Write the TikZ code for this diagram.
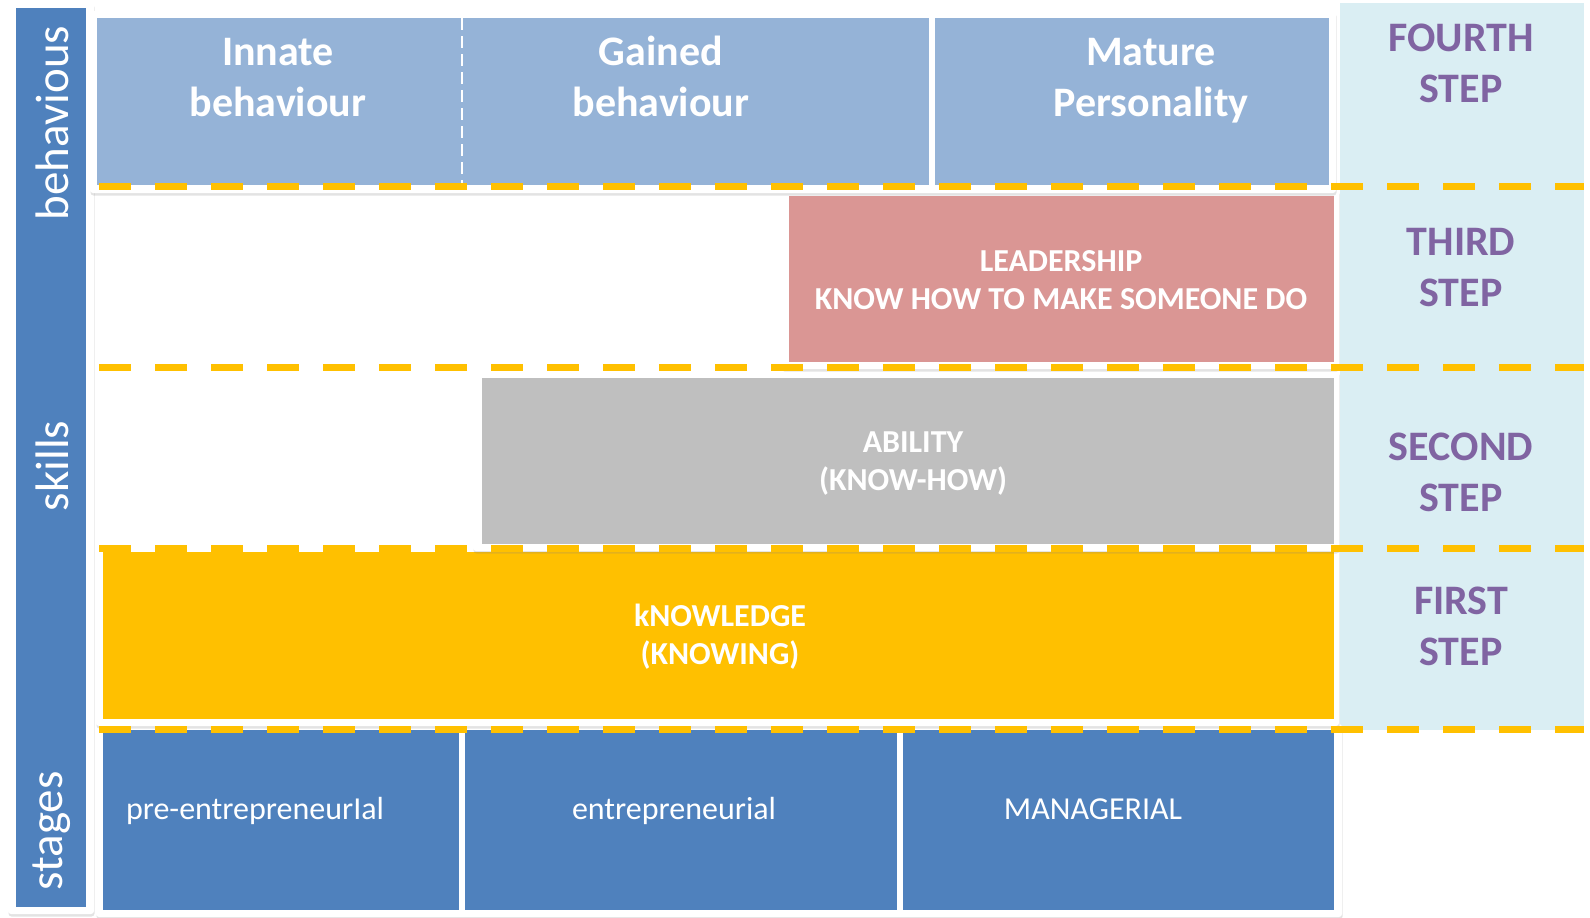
\documentclass[tikz,border=0pt]{standalone}
\usepackage{fontspec}
\setmainfont{Carlito}
\usetikzlibrary{shadows}
\definecolor{lblue}{HTML}{95B3D7}
\definecolor{dblue}{HTML}{4F81BD}
\definecolor{pinkc}{HTML}{DA9694}
\definecolor{grayc}{HTML}{BFBFBF}
\definecolor{yellowc}{HTML}{FFC000}
\definecolor{cyanc}{HTML}{DAEEF3}
\definecolor{purplec}{HTML}{8064A2}
\begin{document}
\begin{tikzpicture}[x=1pt,y=-1pt,
  frame/.style={fill=white, rounded corners=3pt, drop shadow={shadow xshift=0.5pt, shadow yshift=-2.5pt, opacity=0.22}},
  yline/.style={draw=yellowc, line width=7pt, dash pattern=on 32pt off 24pt},
  title/.style={text=white, font=\bfseries\fontsize{42}{51}\selectfont, align=center, inner sep=0pt},
  steplbl/.style={text=purplec, font=\bfseries\fontsize{42}{51}\selectfont, align=center, inner sep=0pt},
  midlbl/.style={text=white, font=\bfseries\fontsize{32}{38}\selectfont, align=center, inner sep=0pt},
  stagelbl/.style={text=white, font=\fontsize{32}{38}\selectfont, inner sep=0pt, anchor=base},
  sidelbl/.style={text=white, font=\fontsize{47}{56}\selectfont, rotate=90, inner sep=0pt}]
\useasboundingbox (0,0) rectangle (1590,918);
\fill[white] (0,0) rectangle (1590,918);
% step column
\fill[cyanc] (1340,3) rectangle (1584,730);
% left bar
\fill[frame] (8,2) rectangle (94,914);
\fill[dblue] (16,8) rectangle (86,907);
% row 5: stages
\fill[frame] (96,724) rectangle (1342,917);
\fill[dblue] (103,730) rectangle (459,910);
\fill[dblue] (465,730) rectangle (897,910);
\fill[dblue] (903,730) rectangle (1334,910);
% row 4: knowledge
\fill[frame] (96,545) rectangle (1339,726);
\fill[yellowc] (103,552) rectangle (1334,719);
% row 3: ability
\fill[frame] (473,370) rectangle (1339,551);
\fill[grayc] (482,378) rectangle (1334,544);
% row 2: leadership
\fill[frame] (781,189) rectangle (1339,369);
\fill[pinkc] (789,196) rectangle (1334,362);
% row 1: behaviours
\fill[frame] (90,11) rectangle (1336,193);
\fill[lblue] (97,18) rectangle (929,185);
\fill[lblue] (935,18) rectangle (1329,185);
\draw[white, line width=1.5pt, dash pattern=on 12pt off 6pt] (462,18) -- (462,183);
% dashed yellow separators
\draw[yline] (99,186) -- (1584,186);
\draw[yline] (99,367) -- (1584,367);
\draw[yline] (99,548) -- (1584,548);
\draw[yline] (99,729) -- (1584,729);
% side labels
\node[sidelbl] (lbeh) at (52,123) {behavious};
\node[sidelbl] (lskills) at (52,466) {skills};
\node[sidelbl] (lstages) at (52,831) {stages};
% top titles
\node[title] (innate) at (278,78) {Innate\\behaviour};
\node[title] (gained) at (661,76) {Gained\\behaviour};
\node[title] (mature) at (1151,81) {Mature\\Personality};
% middle labels
\node[midlbl] (leader) at (1061,280) {LEADERSHIP\\KNOW HOW TO MAKE SOMEONE DO};
\node[midlbl] (ability) at (913,464) {ABILITY\\(KNOW-HOW)};
\node[midlbl] (knowledge) at (720,637) {kNOWLEDGE\\(KNOWING)};
% step labels
\node[steplbl] (s4) at (1461,63) {FOURTH\\STEP};
\node[steplbl] (s3) at (1461,268) {THIRD\\STEP};
\node[steplbl] (s2) at (1461,472) {SECOND\\STEP};
\node[steplbl] (s1) at (1461,626) {FIRST\\STEP};
% stage labels
\node[stagelbl] (pre) at (255,819) {pre-entrepreneurIal};
\node[stagelbl] (entre) at (674,819) {entrepreneurial};
\node[stagelbl] (manag) at (1093,819) {MANAGERIAL};
\end{tikzpicture}
\end{document}
